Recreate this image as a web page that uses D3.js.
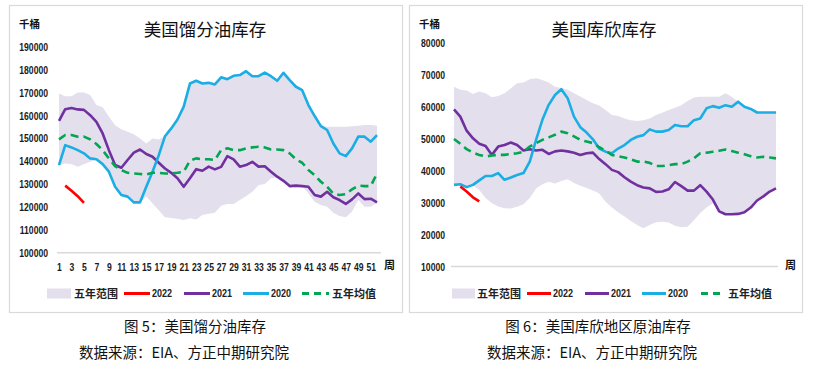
<!DOCTYPE html>
<html><head><meta charset="utf-8">
<script src="https://cdn.jsdelivr.net/npm/d3@7"></script>
<style>
html,body{margin:0;padding:0;background:#fff;}
svg{display:block;}
.num{font-family:"Liberation Sans",Arial,sans-serif;font-weight:bold;}
.cjk{font-family:"Noto Sans CJK SC","Noto Sans",sans-serif;}
</style></head>
<body>
<svg id="c" width="813" height="368"></svg>
<script>
// ---------- data ----------
const weeks = [1,2,3,4,5,6,7,8,9,10,11,12,13,14,15,16,17,18,19,20,21,22,23,24,25,26,
  27,28,29,30,31,32,33,34,35,36,37,38,39,40,41,42,43,44,45,46,47,48,49,50,51,52];
const weekTickLabels = [1,3,5,7,9,11,13,15,17,19,21,23,25,27,29,31,33,35,37,39,41,43,45,47,49,51];
const legendNames = ["五年范围","2022","2021","2020","五年均值"];

// Chart 1: US distillate stocks (thousand barrels; values below in thousands)
const distTicks = [100000,110000,120000,130000,140000,150000,160000,170000,180000,190000];
const distRangeUpper = [169.6,168.4,168.4,170.0,170.0,168.9,164.5,163.5,159.4,155.7,153.9,152.8,151.8,149.9,147.7,149.9,149.5,150.9,154.3,158.2,163.8,173.9,175.1,173.9,174.2,173.5,
  176.6,175.8,177.3,177.6,179.3,177.1,177.1,178.7,177.1,175.1,178.6,175.4,172.5,171.0,164.5,159.7,155.3,155.0,155.0,155.0,155.0,155.2,155.5,155.8,155.8,155.5];
const distRangeLower = [138.3,139.0,138.7,137.6,138.6,139.7,140.8,138.7,135.4,128.8,125.2,124.5,122.0,122.0,124.5,121.5,118.5,115.5,115.2,114.8,114.3,115.0,114.5,116.5,117.0,117.5,
  120.5,121.3,121.3,123.0,124.7,126.6,129.5,130.0,132.5,132.9,131.4,129.1,129.3,129.1,125.9,122.3,120.8,120.1,117.5,116.0,115.5,118.0,123.0,120.1,120.1,121.8];
const dist2022 = [null,129.3,127.1,124.7,121.8];
const dist2021 = [157.6,162.7,163.2,162.6,162.4,160.1,157.2,152.1,144.8,138.3,137.1,140.5,143.7,145.1,143.1,141.9,139.3,136.8,134.9,132.5,128.8,132.5,136.5,135.8,137.6,136.4,
  137.5,142.2,140.8,137.6,138.3,139.7,137.6,137.8,135.4,133.2,131.4,129.1,129.3,129.1,128.8,125.2,124.5,126.6,124.2,123.0,121.3,123.3,125.9,123.4,123.6,122.0];
const dist2020 = [138.3,147.0,146.0,144.8,143.4,141.2,140.8,138.7,135.4,128.8,125.2,124.5,122.0,122.0,128.8,135.4,142.6,150.9,154.3,158.2,163.8,173.9,175.1,173.9,174.2,173.5,
  176.6,175.8,177.3,177.6,179.3,177.1,177.1,178.7,177.1,175.1,178.6,175.4,172.5,171.0,164.5,159.7,155.3,153.6,147.7,143.4,142.2,145.6,150.7,150.7,148.5,151.4];
const distAvg = [149.5,151.4,151.4,150.7,150.7,149.5,147.5,144.8,141.2,137.8,136.1,134.9,134.6,134.4,134.2,134.9,134.9,134.6,134.6,134.9,135.4,140.2,141.2,140.8,140.8,140.5,
  144.8,145.6,144.8,144.8,145.6,146.0,146.3,146.0,145.1,145.1,144.8,143.4,140.8,139.3,136.1,133.9,131.0,128.8,125.8,125.2,125.6,127.7,129.3,129.1,129.1,134.6];

// Chart 2: Cushing crude stocks
const cushTicks = [10000,20000,30000,40000,50000,60000,70000,80000];
const cushRangeUpper = [66.4,65.4,65.2,64.1,64.9,64.3,63.1,63.5,64.3,65.9,67.5,67.7,68.7,69.0,68.5,67.7,66.4,66.0,65.4,64.3,63.3,62.2,61.2,60.5,59.1,57.5,
  57.2,56.4,55.9,55.6,55.9,56.4,57.5,58.2,59.1,59.8,60.6,61.9,63.0,63.2,63.2,63.2,63.2,64.3,63.2,61.7,60.1,59.4,58.3,58.3,58.3,58.3];
const cushRangeLower = [35.6,35.8,34.9,35.4,34.0,31.5,29.8,28.8,28.3,28.2,28.7,29.5,31.5,34.5,35.8,36.6,36.0,36.8,37.4,36.2,35.3,34.6,33.8,32.9,30.3,28.5,
  27.0,25.7,24.3,23.0,22.0,23.0,23.9,24.0,23.8,22.8,22.3,22.5,24.5,26.8,28.5,29.8,27.2,26.4,26.4,26.5,27.0,28.5,30.7,32.0,33.5,34.5];
const cush2022 = [null,35.1,33.5,31.7,30.4];
const cush2021 = [59.3,57.0,52.6,50.2,48.5,47.8,45.0,47.6,48.1,48.9,48.1,46.4,46.8,46.4,46.6,45.3,46.1,46.4,46.1,45.7,45.0,45.5,45.7,43.7,42.1,40.3,
  39.6,38.0,36.6,35.5,34.8,34.5,33.4,33.5,34.2,36.5,35.2,33.8,33.8,35.5,33.5,31.0,27.3,26.4,26.4,26.5,27.0,28.5,30.7,32.0,33.5,34.5];
const cush2020 = [35.6,35.8,34.9,35.6,37.0,38.4,38.4,39.3,37.2,37.9,38.7,39.3,42.9,49.7,56.0,60.7,63.8,65.6,62.8,57.0,53.7,52.0,49.9,47.0,46.0,45.5,
  47.0,48.1,49.7,50.7,51.2,53.0,52.3,52.3,52.8,54.4,54.0,54.0,55.9,56.4,59.6,60.3,59.8,60.6,60.1,61.7,60.1,59.4,58.3,58.3,58.3,58.3];
const cushAvg = [50.0,48.5,46.8,45.7,45.0,44.5,44.8,45.0,45.0,45.3,45.5,46.0,47.6,48.7,49.7,50.5,51.3,52.3,51.8,50.8,49.7,49.2,48.7,47.4,46.3,45.0,
  44.6,44.2,43.6,42.9,42.9,42.5,41.5,41.5,41.8,42.1,42.1,42.9,43.9,45.5,45.7,46.0,46.3,46.7,46.2,45.7,45.2,44.6,44.2,44.4,44.2,43.9];

// ---------- styles ----------
const COL = {range:"#e4dfec", y2022:"#ff0000", y2021:"#7030a0", y2020:"#1aaee5", avg:"#00a651", axis:"#d9d9d9"};
const NARROW = "scale(0.82,1)";

const svg = d3.select("#c");

function drawPanel(cfg){
  const g = svg.append("g");
  g.append("rect").attr("x",cfg.box[0]+0.5).attr("y",cfg.box[1]+0.5)
    .attr("width",cfg.box[2]).attr("height",cfg.box[3])
    .attr("fill","#fff").attr("stroke","#d9d9d9").attr("stroke-width",1.2);

  const x = d3.scalePoint().domain(weeks).range(cfg.xRange);
  const y = d3.scaleLinear().domain(cfg.yDomain).range(cfg.yRange);
  const k = v => v*1000;

  const area = d3.area()
    .x((d,i)=>x(weeks[i]))
    .y0((d,i)=>y(k(cfg.lower[i])))
    .y1((d,i)=>y(k(cfg.upper[i])));
  g.append("path").datum(cfg.upper).attr("d",area).attr("fill",COL.range);

  g.append("line").attr("x1",cfg.axisX[0]).attr("x2",cfg.axisX[1])
    .attr("y1",y(cfg.yDomain[0])).attr("y2",y(cfg.yDomain[0]))
    .attr("stroke",COL.axis).attr("stroke-width",1.5);

  const yAxis = d3.axisLeft(y).tickValues(cfg.ticks).tickSize(0).tickPadding(0).tickFormat(d3.format("d"));
  const ya = g.append("g").attr("transform",`translate(${cfg.yLabelX},0)`).call(yAxis);
  ya.select(".domain").remove();
  ya.selectAll("text").attr("class","num").attr("font-size","10.5px").attr("fill","#1a1a1a")
    .attr("dy","0.35em").attr("transform",NARROW);

  if(cfg.xLabels){
    const xAxis = d3.axisBottom(x).tickValues(weekTickLabels).tickSize(0).tickPadding(0);
    const xa = g.append("g").attr("transform",`translate(0,${cfg.xLabelY})`).call(xAxis);
    xa.select(".domain").remove();
    xa.selectAll("text").attr("class","num").attr("font-size","10.5px").attr("fill","#1a1a1a")
      .attr("dy","0.35em").attr("transform",NARROW);
  }

  const line = d3.line().defined(d=>d!=null).x((d,i)=>x(weeks[i])).y(d=>y(k(d)));
  const series = [
    {data:cfg.s2021,color:COL.y2021,dash:null},
    {data:cfg.s2020,color:COL.y2020,dash:null},
    {data:cfg.avg,color:COL.avg,dash:"8,5"},
    {data:cfg.s2022,color:COL.y2022,dash:null}
  ];
  series.forEach(s=>{
    g.append("path").datum(s.data).attr("d",line).attr("fill","none")
      .attr("stroke",s.color).attr("stroke-width",2.6)
      .attr("stroke-linejoin","round").attr("stroke-dasharray",s.dash);
  });

  g.append("text").attr("class","cjk").attr("x",cfg.titleX).attr("y",36)
    .attr("text-anchor","middle").attr("font-size","17.5px").attr("fill","#111").text(cfg.title);
  g.append("text").attr("class","cjk").attr("x",cfg.unitX).attr("y",28)
    .attr("font-size","10.5px").attr("font-weight","bold").attr("fill","#111").text("千桶");
  g.append("text").attr("class","cjk").attr("x",cfg.weekX).attr("y",269)
    .attr("font-size","11px").attr("font-weight","bold").attr("fill","#111").text("周");

  const L = cfg.legend, ly = 293.5;
  g.append("rect").attr("x",L[0]).attr("y",ly-5).attr("width",L[1]-L[0]).attr("height",10).attr("fill",COL.range);
  const legendItems = [
    {c:COL.y2022,dash:null},{c:COL.y2021,dash:null},{c:COL.y2020,dash:null},{c:COL.avg,dash:"7,5"}
  ];
  g.append("text").attr("class","cjk").attr("x",L[2]).attr("y",ly+4).attr("font-size","11px").attr("font-weight","bold").attr("fill","#222").text(legendNames[0]);
  legendItems.forEach((it,i)=>{
    const sx = L[3+i*3], ex = L[4+i*3], tx = L[5+i*3];
    g.append("line").attr("x1",sx).attr("x2",ex).attr("y1",ly).attr("y2",ly)
      .attr("stroke",it.c).attr("stroke-width",3).attr("stroke-dasharray",it.dash);
    const t = g.append("text").attr("class", i<3 ? "num" : "cjk").attr("y",ly+4)
      .attr("font-size","11px").attr("font-weight","bold").attr("fill","#222").text(legendNames[i+1]);
    if(i<3){ t.attr("x",0).attr("transform",`translate(${tx},0) ${NARROW}`); }
    else { t.attr("x",tx); }
  });

  g.append("text").attr("class","cjk").attr("x",cfg.capX[0]).attr("y",332).attr("text-anchor","middle")
    .attr("font-size","14.5px").attr("fill","#111").text(cfg.caption);
  g.append("text").attr("class","cjk").attr("x",cfg.capX[1]).attr("y",358).attr("text-anchor","middle")
    .attr("font-size","14.5px").attr("fill","#111").text("数据来源：EIA、方正中期研究院");
}

drawPanel({
  box:[9,5,393,307], xRange:[59,377], axisX:[57,381],
  yDomain:[100000,190000], yRange:[252.7,46.7], ticks:distTicks, yLabelX:48,
  xLabels:true, xLabelY:267,
  upper:distRangeUpper, lower:distRangeLower, s2022:dist2022, s2021:dist2021, s2020:dist2020, avg:distAvg,
  title:"美国馏分油库存", titleX:205, unitX:19, weekX:384,
  legend:[47,71,74, 124,150,152, 184,210,212, 243,269,271, 302,329,332],
  caption:"图 5：美国馏分油库存", capX:[195,184]
});
drawPanel({
  box:[409,5,393,307], xRange:[454,776], axisX:[451,778],
  yDomain:[10000,80000], yRange:[266.5,43.3], ticks:cushTicks, yLabelX:445,
  xLabels:false,
  upper:cushRangeUpper, lower:cushRangeLower, s2022:cush2022, s2021:cush2021, s2020:cush2020, avg:cushAvg,
  title:"美国库欣库存", titleX:604, unitX:419, weekX:785,
  legend:[452,475,477, 527,551,553, 585,609,611, 642,666,668, 701,725,728],
  caption:"图 6：美国库欣地区原油库存", capX:[598,592]
});
</script>
</body></html>
